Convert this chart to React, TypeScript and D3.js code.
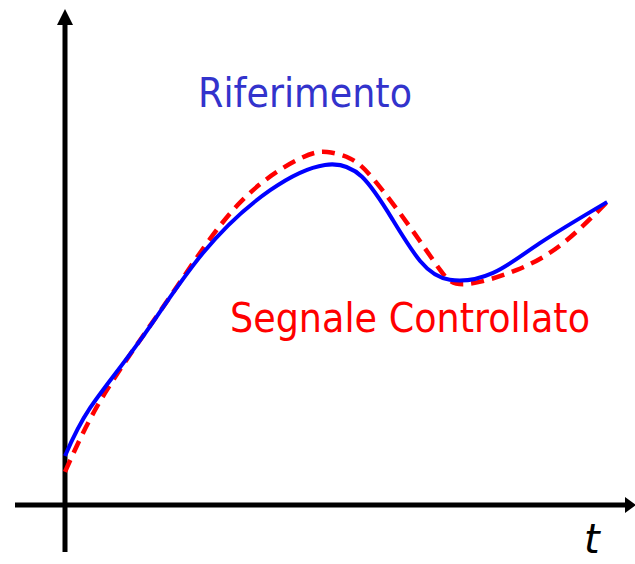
import React from "react";
import * as d3 from "d3";

// Time (t) and value samples
const riferimentoT = [0, 0.44, 1.32, 2.42, 3.6, 4.56, 5.21, 5.75, 6.23, 6.75, 7.51, 8.33, 9.51];
const riferimentoV = [0.99, 1.96, 3.33, 5.09, 6.36, 6.87, 6.63, 5.76, 4.93, 4.55, 4.69, 5.29, 6.12];

const controllatoT = [0, 0.7, 1.84, 3.02, 4.09, 4.6, 5.0, 5.4, 6.05, 6.58, 7.02, 7.93, 8.74, 9.51];
const controllatoV = [0.67, 2.26, 4.2, 6.05, 6.98, 7.13, 7.0, 6.6, 5.62, 4.75, 4.46, 4.75, 5.29, 6.12];

const labels = { riferimento: "Riferimento", controllato: "Segnale Controllato", asse: "t" };

const W = 635;
const H = 564;

export default function App() {
  const x = d3.scaleLinear().domain([0, 10]).range([65, 635]);
  const y = d3.scaleLinear().domain([0, 10]).range([505, 10]);

  const line = d3
    .line<[number, number]>()
    .x((d) => x(d[0]))
    .y((d) => y(d[1]))
    .curve(d3.curveNatural);

  const rif: [number, number][] = riferimentoT.map((t, i) => [t, riferimentoV[i]]);
  const ctl: [number, number][] = controllatoT.map((t, i) => [t, controllatoV[i]]);

  const x0 = x(0);
  const y0 = y(0);

  return (
    <svg
      width={W}
      height={H}
      style={{ position: "absolute", left: 0, top: 0, background: "#fff" }}
    >
      {/* axes */}
      <line x1={15} x2={626} y1={y0} y2={y0} stroke="#000" strokeWidth={5} />
      <polygon points={`625,497 625,513 636,505`} fill="#000" />
      <line x1={x0} x2={x0} y1={552} y2={24} stroke="#000" strokeWidth={5} />
      <polygon points={`57,25 73,25 65,9`} fill="#000" />

      {/* curves */}
      <path d={line(ctl) || ""} fill="none" stroke="#ff0000" strokeWidth={4.5} strokeDasharray="13,8" />
      <path d={line(rif) || ""} fill="none" stroke="#0000ff" strokeWidth={4} />

      {/* texts */}
      <text
        x={198}
        y={107}
        fontFamily="DejaVu Sans"
        fontSize={40}
        fill="#3333cc"
        textLength={214}
        lengthAdjust="spacingAndGlyphs"
      >
        {labels.riferimento}
      </text>
      <text
        x={230}
        y={332}
        fontFamily="DejaVu Sans"
        fontSize={40}
        fill="#ff0000"
        textLength={360}
        lengthAdjust="spacingAndGlyphs"
      >
        {labels.controllato}
      </text>
      <text x={584} y={553} fontFamily="DejaVu Sans" fontStyle="italic" fontSize={40} fill="#000">
        {labels.asse}
      </text>
    </svg>
  );
}
